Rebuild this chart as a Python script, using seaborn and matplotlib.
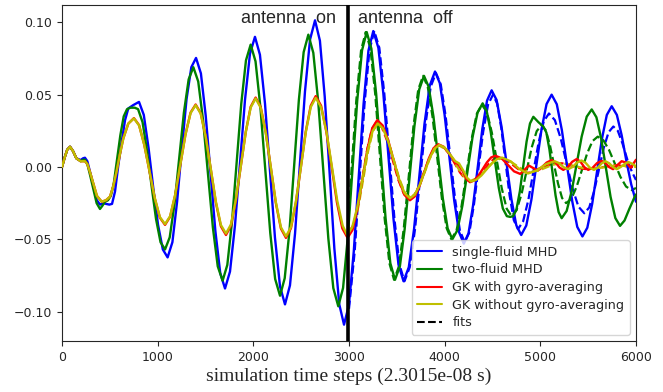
import matplotlib
matplotlib.use("Agg")
import matplotlib.pyplot as plt
from matplotlib.lines import Line2D
import pandas as pd
import seaborn as sns

# Simulated signal vs. time step: (step, value) pairs per model
single_fluid = [
    (0, 0.0), (30, 0.007), (55, 0.012), (84, 0.014), (115, 0.011), (150, 0.006), (195, 0.0048),
    (220, 0.006), (240, 0.0064), (265, 0.004), (295, -0.004), (327, -0.0124), (362, -0.0228),
    (397, -0.026), (430, -0.025), (460, -0.0255), (495, -0.026), (523, -0.0255), (554, -0.017),
    (589, 0.0014), (624, 0.0175), (659, 0.0324), (693, 0.0405), (745, 0.0428), (805, 0.045),
    (855, 0.036), (905, 0.013), (955, -0.015), (1004, -0.040), (1054, -0.057), (1104, -0.0625),
    (1154, -0.052), (1203, -0.024), (1253, 0.013), (1302, 0.047), (1352, 0.069), (1401, 0.0754),
    (1452, 0.0647), (1502, 0.0356), (1553, -0.0043), (1603, -0.0442), (1654, -0.0733), (1704, -0.084),
    (1756, -0.0723), (1808, -0.0405), (1861, 0.003), (1913, 0.0465), (1965, 0.0783), (2017, 0.090),
    (2069, 0.0776), (2122, 0.0438), (2174, -0.0025), (2226, -0.0488), (2279, -0.0826), (2331, -0.095),
    (2383, -0.0818), (2436, -0.0459), (2488, 0.0032), (2540, 0.0523), (2593, 0.0882), (2645, 0.1014),
    (2696, 0.0873), (2746, 0.0488), (2797, -0.0038), (2847, -0.0564), (2898, -0.0949), (2948, -0.109),
    (2999, -0.0954), (3050, -0.0583), (3101, -0.0075), (3152, 0.0433), (3203, 0.0804), (3254, 0.094),
    (3307, 0.0824), (3359, 0.0508), (3412, 0.0075), (3465, -0.0358), (3517, -0.0674), (3570, -0.079),
    (3625, -0.0693), (3680, -0.0428), (3735, -0.0065), (3789, 0.0298), (3844, 0.0563), (3899, 0.066),
    (3949, 0.058), (3999, 0.0363), (4050, 0.0065), (4100, -0.0233), (4150, -0.045), (4200, -0.053),
    (4249, -0.0459), (4297, -0.0265), (4346, 0.0), (4394, 0.0265), (4443, 0.0459), (4491, 0.053),
    (4543, 0.0463), (4594, 0.028), (4646, 0.003), (4697, -0.022), (4749, -0.0403), (4800, -0.047),
    (4853, -0.0405), (4906, -0.0228), (4959, 0.0015), (5012, 0.0258), (5065, 0.0435), (5118, 0.050),
    (5172, 0.0434), (5225, 0.0255), (5279, 0.001), (5333, -0.0235), (5386, -0.0414), (5440, -0.048),
    (5491, -0.042), (5542, -0.0255), (5593, -0.003), (5644, 0.0195), (5695, 0.036), (5746, 0.042),
    (5800, 0.036), (5850, 0.022), (5900, 0.004), (5950, -0.012), (6000, -0.024),
]

two_fluid = [
    (0, 0.0), (30, 0.007), (55, 0.012), (84, 0.014), (115, 0.011), (150, 0.006), (195, 0.004),
    (220, 0.005), (240, 0.005), (265, 0.002), (295, -0.006), (327, -0.015), (362, -0.025),
    (397, -0.029), (420, -0.027), (450, -0.024), (480, -0.023), (510, -0.020), (540, -0.012),
    (575, 0.005), (610, 0.022), (645, 0.035), (680, 0.040), (715, 0.041), (760, 0.041), (795, 0.040),
    (842, 0.031), (889, 0.011), (936, -0.013), (983, -0.036), (1030, -0.052), (1077, -0.057),
    (1126, -0.0486), (1176, -0.0255), (1225, 0.006), (1274, 0.0375), (1324, 0.0606), (1373, 0.069),
    (1424, 0.0591), (1475, 0.0321), (1526, -0.0048), (1577, -0.0417), (1628, -0.0687), (1679, -0.0786),
    (1728, -0.0677), (1777, -0.0378), (1826, 0.003), (1874, 0.0438), (1923, 0.0737), (1972, 0.0846),
    (2023, 0.073), (2074, 0.0412), (2126, -0.0022), (2177, -0.0456), (2228, -0.0774), (2279, -0.089),
    (2328, -0.0769), (2378, -0.0439), (2427, 0.0013), (2476, 0.0464), (2526, 0.0794), (2575, 0.0915),
    (2627, 0.0789), (2679, 0.0446), (2732, -0.0024), (2784, -0.0494), (2836, -0.0837), (2888, -0.0963),
    (2938, -0.0836), (2987, -0.0489), (3037, -0.0015), (3086, 0.0459), (3136, 0.0806), (3185, 0.0933),
    (3234, 0.0818), (3284, 0.0505), (3333, 0.0077), (3382, -0.0352), (3432, -0.0665), (3481, -0.078),
    (3532, -0.0686), (3582, -0.0428), (3633, -0.0075), (3683, 0.0278), (3734, 0.0536), (3784, 0.063),
    (3833, 0.0554), (3883, 0.0348), (3932, 0.0065), (3981, -0.0218), (4031, -0.0424), (4080, -0.050),
    (4133, -0.0437), (4186, -0.0265), (4239, -0.003), (4291, 0.0205), (4344, 0.0377), (4397, 0.044),
    (4439, 0.0388), (4481, 0.0245), (4524, 0.005), (4566, -0.0145), (4608, -0.0287), (4650, -0.034),
    (4685, -0.0345), (4715, -0.034),
    (4750, -0.0294), (4786, -0.0168), (4821, 0.0003), (4856, 0.0175), (4892, 0.0301), (4927, 0.0347),
    (4980, 0.031), (5031, 0.028),
    (5063, 0.0238), (5095, 0.0122), (5127, -0.0037), (5159, -0.0196), (5191, -0.0312), (5223, -0.0354),
    (5275, -0.0304), (5328, -0.0166), (5380, 0.0022), (5432, 0.021), (5485, 0.0348), (5537, 0.0398),
    (5586, 0.0344), (5636, 0.0197), (5685, -0.0005), (5734, -0.0206), (5784, -0.0353), (5833, -0.0407),
    (5880, -0.037), (5930, -0.029), (5990, -0.020), (6000, -0.019),
]

gk_gyro = [
    (0, 0.0), (30, 0.007), (55, 0.012), (84, 0.014), (115, 0.011), (150, 0.006), (195, 0.004),
    (240, 0.004), (265, 0.002), (295, -0.004), (330, -0.012), (365, -0.020), (415, -0.024),
    (460, -0.023), (502, -0.0205), (537, -0.013), (571, -0.003), (606, 0.009), (641, 0.0198),
    (693, 0.030), (752, 0.0338),
    (806, 0.0289), (860, 0.0154), (915, -0.0031), (969, -0.0215), (1023, -0.035), (1077, -0.040),
    (1130, -0.0344), (1184, -0.0192), (1237, 0.0016), (1290, 0.0224), (1344, 0.0376), (1397, 0.0432),
    (1450, 0.0372), (1503, 0.0207), (1556, -0.0019), (1608, -0.0245), (1661, -0.041), (1714, -0.047),
    (1766, -0.0406), (1817, -0.0233), (1869, 0.0005), (1921, 0.0243), (1972, 0.0416), (2024, 0.048),
    (2077, 0.0415), (2130, 0.0238), (2183, -0.0005), (2235, -0.0248), (2288, -0.0425), (2341, -0.049),
    (2393, -0.0424), (2445, -0.0245), (2497, 0.0), (2548, 0.0245), (2600, 0.0424), (2652, 0.049),
    (2708, 0.0424), (2763, 0.0245), (2819, 0.0), (2874, -0.0245), (2930, -0.0424), (2985, -0.049),
    (3037, -0.0435), (3088, -0.0287), (3140, -0.0083), (3192, 0.0121), (3243, 0.0269), (3295, 0.0324),
    (3352, 0.0287), (3409, 0.0186), (3466, 0.0047), (3523, -0.0092), (3580, -0.0193), (3637, -0.023),
    (3687, -0.0204), (3736, -0.0133), (3786, -0.0037), (3835, 0.006), (3885, 0.0131), (3934, 0.0157),
    (3990, 0.014), (4045, 0.0095), (4100, 0.0042), (4145, 0.0015), (4190, -0.003), (4230, -0.0085),
    (4265, -0.0105),
    (4309, -0.0093), (4353, -0.006), (4398, -0.0014), (4442, 0.0032), (4486, 0.0066), (4530, 0.0078),
    (4595, 0.006), (4660, 0.0015), (4725, -0.003), (4790, -0.0048), (4835, -0.0019), (4880, 0.001),
    (4920, -0.0005), (4960, -0.002),
    (5013, -0.0003), (5067, 0.0031), (5120, 0.0048), (5160, 0.0031), (5200, -0.0003), (5240, -0.002),
    (5287, -0.0001), (5333, 0.0036), (5380, 0.0055), (5420, 0.0036), (5460, -0.0001), (5500, -0.002),
    (5547, -0.0005), (5593, 0.0027), (5640, 0.0042), (5680, 0.0028), (5720, -0.0001), (5760, -0.0015),
    (5800, 0.001), (5850, 0.004), (5900, 0.003), (5945, -0.0005), (6000, 0.005),
]

gk_no_gyro = [
    (0, 0.0), (30, 0.007), (55, 0.012), (84, 0.014), (115, 0.011), (150, 0.006), (195, 0.004),
    (240, 0.004), (265, 0.002), (295, -0.004), (330, -0.012), (365, -0.020), (415, -0.024),
    (460, -0.023), (502, -0.0205), (537, -0.013), (571, -0.003), (606, 0.009), (641, 0.0198),
    (693, 0.030), (752, 0.0336),
    (806, 0.0287), (860, 0.0153), (915, -0.003), (969, -0.0212), (1023, -0.0346), (1077, -0.0395),
    (1130, -0.034), (1184, -0.0189), (1237, 0.0017), (1290, 0.0222), (1344, 0.0373), (1397, 0.0428),
    (1450, 0.0369), (1503, 0.0206), (1556, -0.0016), (1608, -0.0238), (1661, -0.0401), (1714, -0.046),
    (1766, -0.0397), (1817, -0.0227), (1869, 0.0007), (1921, 0.0241), (1972, 0.0411), (2024, 0.0474),
    (2077, 0.041), (2130, 0.0236), (2183, -0.0003), (2235, -0.0242), (2288, -0.0416), (2341, -0.048),
    (2393, -0.0416), (2445, -0.024), (2497, -0.0001), (2548, 0.0239), (2600, 0.0414), (2652, 0.0478),
    (2708, 0.0414), (2765, 0.0241), (2821, 0.0004), (2877, -0.0233), (2934, -0.0406), (2980, -0.047),
    (3033, -0.0418), (3087, -0.0277), (3140, -0.0085), (3193, 0.0108), (3247, 0.0249), (3300, 0.0301),
    (3356, 0.0266), (3412, 0.0172), (3469, 0.0043), (3525, -0.0087), (3581, -0.0181), (3637, -0.0216),
    (3688, -0.0191), (3739, -0.0124), (3791, -0.0032), (3842, 0.006), (3893, 0.0127), (3944, 0.0152),
    (3999, 0.0135), (4054, 0.0089), (4110, 0.004), (4150, 0.0025), (4190, -0.002), (4235, -0.0075),
    (4275, -0.010),
    (4329, -0.0089), (4383, -0.0059), (4437, -0.0017), (4492, 0.0024), (4546, 0.0054), (4600, 0.0065),
    (4690, 0.0039), (4780, -0.0014), (4870, -0.0045), (4963, -0.0024), (5057, 0.0019), (5150, 0.004),
    (5197, 0.0026), (5243, -0.0001), (5290, -0.0015), (5337, 0.0), (5383, 0.003), (5430, 0.0045),
    (5473, 0.0029), (5517, -0.0004), (5560, -0.002), (5600, -0.0005), (5640, 0.0025), (5680, 0.004),
    (5720, 0.0026), (5760, -0.0001), (5800, -0.0015), (5840, 0.0), (5880, 0.002), (5920, 0.0035),
    (5960, 0.0022), (6000, 0.0005),
]

# Damped-oscillation fits after the antenna is switched off
single_fluid_fit = [
    (3000, -0.098), (3060, -0.058), (3111, -0.0075), (3162, 0.0433), (3213, 0.0804), (3264, 0.094),
    (3317, 0.0824), (3369, 0.0508), (3422, 0.0075), (3475, -0.0358), (3527, -0.0674), (3580, -0.079),
    (3635, -0.0693), (3690, -0.043), (3745, -0.007), (3799, 0.029), (3854, 0.0555), (3909, 0.065),
    (3959, 0.0572), (4009, 0.0358), (4060, 0.0065), (4110, -0.0228), (4160, -0.0442), (4210, -0.052),
    (4258, -0.0452), (4305, -0.0265), (4353, -0.001), (4403, 0.0245), (4454, 0.0432), (4505, 0.050),
    (4549, 0.0438), (4592, 0.0268), (4636, 0.0035), (4679, -0.0198), (4723, -0.0368), (4766, -0.043),
    (4820, -0.0376), (4874, -0.023), (4928, -0.003), (4982, 0.017), (5036, 0.0316), (5090, 0.037),
    (5152, 0.0324), (5213, 0.0198), (5275, 0.0025), (5337, -0.0148), (5398, -0.0274), (5460, -0.032),
    (5511, -0.028), (5561, -0.017), (5612, -0.002), (5662, 0.013), (5713, 0.024), (5763, 0.028),
    (5810, 0.025), (5860, 0.016), (5910, 0.005), (5955, -0.003), (6000, -0.009),
]

two_fluid_fit = [
    (3000, -0.030), (3027, -0.0015), (3076, 0.0459), (3126, 0.0806), (3175, 0.0933),
    (3224, 0.0818), (3274, 0.0505), (3323, 0.0077), (3372, -0.0352), (3422, -0.0665), (3471, -0.078),
    (3522, -0.0686), (3572, -0.0428), (3623, -0.0075), (3673, 0.0278), (3724, 0.0536), (3774, 0.063),
    (3823, 0.0554), (3873, 0.0348), (3922, 0.0065), (3971, -0.0218), (4021, -0.0424), (4070, -0.050),
    (4124, -0.0438), (4177, -0.0268), (4230, -0.0035), (4283, 0.0198), (4336, 0.0368), (4390, 0.043),
    (4442, 0.0378), (4493, 0.0238), (4545, 0.0045), (4597, -0.0148), (4648, -0.0288), (4700, -0.034),
    (4752, -0.0298), (4805, -0.0183), (4857, -0.0025), (4909, 0.0133), (4962, 0.0248), (5014, 0.029),
    (5057, 0.0254), (5099, 0.0155), (5142, 0.002), (5185, -0.0115), (5227, -0.0214), (5270, -0.025),
    (5325, -0.0219), (5380, -0.0135), (5435, -0.002), (5490, 0.0095), (5545, 0.0179), (5600, 0.021),
    (5659, 0.0185), (5718, 0.0118), (5778, 0.0025), (5837, -0.0068), (5896, -0.0135), (5955, -0.016),
    (6000, -0.0145),
]

gk_gyro_fit = [
    (3000, -0.045), (3048, -0.0399), (3095, -0.026), (3143, -0.007), (3190, 0.012), (3238, 0.0259),
    (3285, 0.031), (3343, 0.0274), (3400, 0.0178), (3458, 0.0045), (3515, -0.0088), (3573, -0.0185),
    (3630, -0.022), (3682, -0.0195), (3733, -0.0128), (3785, -0.0035), (3837, 0.0058), (3888, 0.0125),
    (3940, 0.015), (3995, 0.0133), (4050, 0.0088), (4105, 0.0025), (4160, -0.0038), (4215, -0.0083),
    (4270, -0.010), (4318, -0.0089), (4367, -0.0059), (4415, -0.0018), (4463, 0.0024), (4512, 0.0054),
    (4560, 0.0065), (4612, 0.0058), (4663, 0.0039), (4715, 0.0013), (4767, -0.0014), (4818, -0.0033),
    (4870, -0.004), (4922, -0.0035), (4973, -0.0023), (5025, -0.0006), (5077, 0.0011), (5128, 0.0023),
    (5180, 0.0028), (5232, 0.0025), (5283, 0.0017), (5335, 0.0007), (5387, -0.0004), (5438, -0.0012),
    (5490, -0.0015), (5568, -0.0011), (5645, -0.0002), (5723, 0.0007), (5800, 0.0012), (5900, 0.0005),
    (6000, -0.0003),
]

gk_no_gyro_fit = [
    (3000, -0.046), (3050, -0.0409), (3100, -0.027), (3150, -0.008), (3200, 0.011), (3250, 0.0249),
    (3300, 0.030), (3357, 0.0266), (3413, 0.0173), (3470, 0.0045), (3527, -0.0083), (3583, -0.0176),
    (3640, -0.021), (3691, -0.0186), (3742, -0.0121), (3793, -0.0033), (3843, 0.0056), (3894, 0.0121),
    (3945, 0.0145), (4000, 0.0129), (4055, 0.0085), (4110, 0.0025), (4165, -0.0035), (4220, -0.0079),
    (4275, -0.0095), (4354, -0.0072), (4433, -0.0018), (4511, 0.0037), (4590, 0.006), (4668, 0.0046),
    (4745, 0.0013), (4823, -0.0021), (4900, -0.0035), (4978, -0.0026), (5055, -0.0005), (5133, 0.0016),
    (5210, 0.0025), (5288, 0.002), (5365, 0.0007), (5443, -0.0007), (5520, -0.0012), (5598, -0.0009),
    (5675, -0.0001), (5753, 0.0007), (5830, 0.001), (5915, 0.0005), (6000, 0.0),
]

antenna_off_step = 2985
labels = ["single-fluid MHD", "two-fluid MHD", "GK with gyro-averaging", "GK without gyro-averaging"]
colors = ["b", "g", "r", "y"]
x_ticks = [0, 1000, 2000, 3000, 4000, 5000, 6000]
y_ticks = [-0.10, -0.05, 0.00, 0.05, 0.10]

sns.set_style("ticks")
plt.rcParams["font.family"] = ["DejaVu Sans"]
plt.rcParams["lines.solid_joinstyle"] = "round"

fig = plt.figure(figsize=(6.63, 3.92), dpi=100)
ax = fig.add_axes([62 / 663, 1 - 341 / 392, (636 - 62) / 663, (341 - 5) / 392])

series = [(single_fluid, single_fluid_fit), (two_fluid, two_fluid_fit),
          (gk_gyro, gk_gyro_fit), (gk_no_gyro, gk_no_gyro_fit)]

# fits underneath, simulation curves on top
for (sim, fit), color in zip(series, colors):
    f = pd.DataFrame(fit, columns=["step", "value"])
    sns.lineplot(data=f, x="step", y="value", color=color, lw=1.6, linestyle="--",
                 estimator=None, sort=False, ax=ax, zorder=2)
for (sim, fit), color in zip(series, colors):
    d = pd.DataFrame(sim, columns=["step", "value"])
    sns.lineplot(data=d, x="step", y="value", color=color, lw=1.7,
                 estimator=None, sort=False, ax=ax, zorder=3)

ax.axvline(antenna_off_step, color="k", lw=2.6, zorder=5)

ax.set_xlim(0, 6000)
ax.set_ylim(-0.1203, 0.112)
ax.set_xticks(x_ticks)
ax.set_yticks(y_ticks)
ax.tick_params(labelsize=9, length=3.5, width=0.8, direction="out")
for s in ax.spines.values():
    s.set_visible(True)
    s.set_linewidth(0.8)
    s.set_color("0.15")

ax.set_ylabel("")
ax.set_xlabel("simulation time steps (2.3015e-08 s)", family="Liberation Serif",
              fontsize=14, labelpad=3)

ax.text(2864, 0.0996, "antenna  on", ha="right", va="baseline",
        family="Liberation Sans", fontsize=13)
ax.text(3094, 0.0996, "antenna  off", ha="left", va="baseline",
        family="Liberation Sans", fontsize=13)

handles = [Line2D([], [], color=c, lw=1.5) for c in colors]
handles.append(Line2D([], [], color="k", lw=1.5, linestyle="--"))
leg = ax.legend(handles, labels + ["fits"], loc="lower right", fontsize=9.2,
                labelspacing=0.37, frameon=True, framealpha=0.8, edgecolor="0.8",
                fancybox=True)
leg.set_zorder(6)

fig.savefig("out.png", dpi=100)
